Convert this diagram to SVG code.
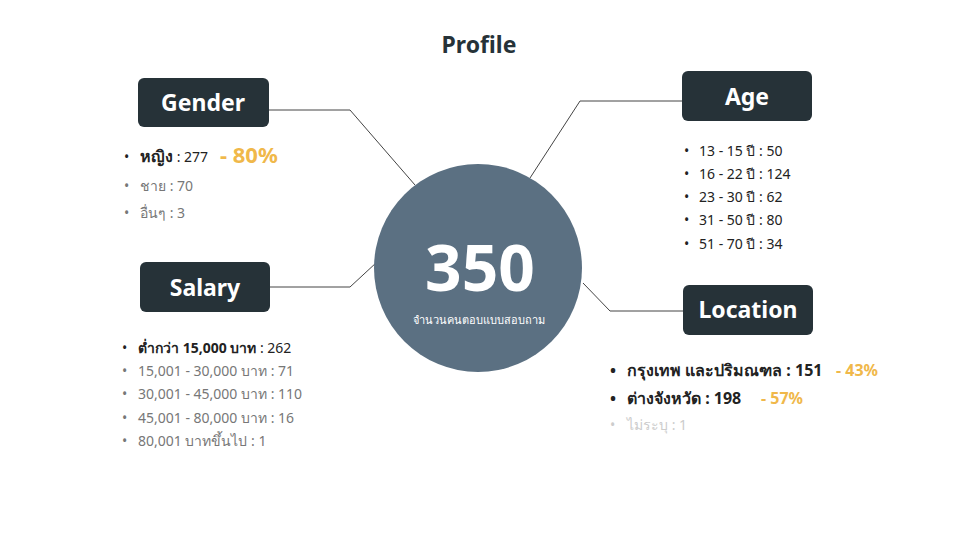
<svg xmlns="http://www.w3.org/2000/svg" width="960" height="539" viewBox="0 0 960 539">
<style>
text{font-family:"Noto Sans","Open Sans",sans-serif}
.box{fill:#263238}
.bt{fill:#fff;font-size:23px;font-weight:bold;text-anchor:middle}
.li{font-size:14px;fill:#777}
.dk{fill:#222}
.b{font-weight:bold}
.pc{fill:#f0b84a;font-weight:bold}
.con{fill:none;stroke:#444;stroke-width:1}
</style>
<rect width="960" height="539" fill="#fff"/>
<text x="479" y="53" text-anchor="middle" font-size="23" font-weight="bold" fill="#263238">Profile</text>
<g id="connectors">
<polyline class="con" points="269,110 350,110 415,185"/>
<polyline class="con" points="682,101 580,101 530,178"/>
<polyline class="con" points="270,287 350,287 377,262"/>
<polyline class="con" points="683,311 610,311 583,283"/>
</g>
<g id="center">
<circle cx="478" cy="268" r="104" fill="#5b7082"/>
<text x="480" y="291" text-anchor="middle" font-size="64" font-weight="bold" fill="#fff">350</text>
<text x="479" y="324" text-anchor="middle" font-size="11" fill="#fff">จำนวนคนตอบแบบสอบถาม</text>
</g>
<g id="gender">
<rect class="box" x="138" y="78" width="131" height="49" rx="6"/>
<text class="bt" x="203" y="111">Gender</text>
<text class="dk" x="124" y="162" font-size="14">•</text>
<text class="dk" x="140" y="162" font-size="14"><tspan class="b" font-size="16">หญิง</tspan> : 277</text>
<text class="pc" x="220" y="163" font-size="22">- 80%</text>
<text class="li" x="124" y="191">•</text><text class="li" x="140" y="191">ชาย : 70</text>
<text class="li" x="124" y="218">•</text><text class="li" x="140" y="218">อื่นๆ : 3</text>
</g>
<g id="age" class="li">
<rect class="box" x="682" y="71" width="130" height="50" rx="6"/>
<text class="bt" x="747" y="105">Age</text>
<text class="li dk" x="684" y="156">•</text><text class="li dk" x="699" y="156">13 - 15 ปี : 50</text>
<text class="li dk" x="684" y="179">•</text><text class="li dk" x="699" y="179">16 - 22 ปี : 124</text>
<text class="li dk" x="684" y="202">•</text><text class="li dk" x="699" y="202">23 - 30 ปี : 62</text>
<text class="li dk" x="684" y="225">•</text><text class="li dk" x="699" y="225">31 - 50 ปี : 80</text>
<text class="li dk" x="684" y="249">•</text><text class="li dk" x="699" y="249">51 - 70 ปี : 34</text>
</g>
<g id="salary">
<rect class="box" x="140" y="262" width="130" height="50" rx="6"/>
<text class="bt" x="205" y="296">Salary</text>
<text class="li dk" x="122" y="353">•</text><text class="li dk" x="138" y="353"><tspan class="b">ต่ำกว่า 15,000 บาท</tspan> : 262</text>
<text class="li" x="122" y="376">•</text><text class="li" x="138" y="376">15,001 - 30,000 บาท : 71</text>
<text class="li" x="122" y="399">•</text><text class="li" x="138" y="399">30,001 - 45,000 บาท : 110</text>
<text class="li" x="122" y="423">•</text><text class="li" x="138" y="423">45,001 - 80,000 บาท : 16</text>
<text class="li" x="122" y="446">•</text><text class="li" x="138" y="446">80,001 บาทขึ้นไป : 1</text>
</g>
<g id="location">
<rect class="box" x="683" y="285" width="130" height="50" rx="6"/>
<text class="bt" x="748" y="318">Location</text>
<text x="610" y="376" font-size="16" font-weight="bold" fill="#222">•</text>
<text x="627" y="376" font-size="16" font-weight="bold" fill="#222">กรุงเทพ และปริมณฑล : 151</text>
<text class="pc" x="836" y="376" font-size="16">- 43%</text>
<text x="610" y="404" font-size="16" font-weight="bold" fill="#222">•</text>
<text x="627" y="404" font-size="16" font-weight="bold" fill="#222">ต่างจังหวัด : 198</text>
<text class="pc" x="761" y="404" font-size="16">- 57%</text>
<text x="610" y="430" font-size="14" fill="#ccc">•</text>
<text x="627" y="430" font-size="14" fill="#ccc">ไม่ระบุ : 1</text>
</g>
</svg>
